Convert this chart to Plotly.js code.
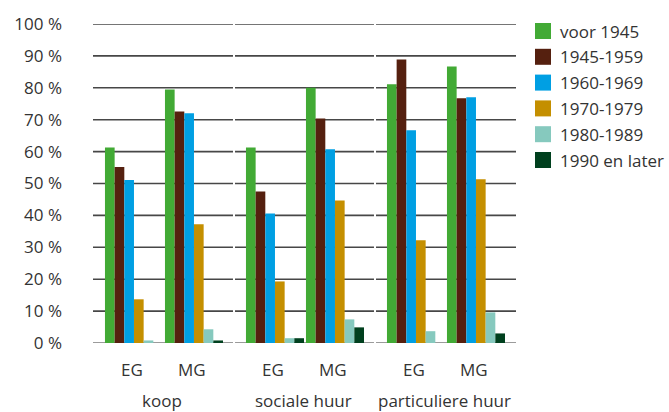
<!DOCTYPE html>
<html><head><meta charset="utf-8">
<script src="https://cdn.plot.ly/plotly-3.0.1.min.js"></script>
<style>html,body{margin:0;padding:0;background:#fff}#chart{width:669px;height:412px}</style>
</head><body><div id="chart"></div>
<script>
// ---- data ----
const groups = ['koop', 'sociale huur', 'particuliere huur'];
const types = ['EG', 'MG'];
const seriesNames = ['voor 1945', '1945-1959', '1960-1969', '1970-1979', '1980-1989', '1990 en later'];
const voor1945   = [61.3, 79.5, 61.3, 80.0, 81.1, 86.7];
const j1945_1959 = [55.2, 72.6, 47.5, 70.4, 88.9, 76.7];
const j1960_1969 = [51.1, 72.0, 40.6, 60.7, 66.7, 77.0];
const j1970_1979 = [13.7, 37.2, 19.3, 44.7, 32.2, 51.3];
const j1980_1989 = [0.8, 4.3, 1.5, 7.4, 3.7, 9.6];
const j1990later = [0, 0.8, 1.5, 4.9, 0, 3.0];
const yTicks = [0, 10, 20, 30, 40, 50, 60, 70, 80, 90, 100];
const yTickText = yTicks.map(v => v + ' %');

// ---- style ----
const seriesValues = [voor1945, j1945_1959, j1960_1969, j1970_1979, j1980_1989, j1990later];
const colors = ['#42aa35', '#55200f', '#009fe3', '#c48f00', '#86c9be', '#00401e'];
const textColor = '#333333';
const fontFamily = '"Open Sans", "DejaVu Sans", sans-serif';
const W = 669, H = 412;
const M = {l: 93, r: 153, t: 24, b: 69};
const plotW = W - M.l - M.r, plotH = H - M.t - M.b;
const P = 2.35;      // group period (in x units)
const off = 0.683;   // first category center within group
const gapHalf = 0.017;

const xPos = [], xLab = [];
groups.forEach((g, gi) => types.forEach((t, ti) => { xPos.push(gi * P + off + ti); xLab.push(t); }));

const traces = [];
seriesValues.forEach((vals, si) => {
  traces.push({
    type: 'bar', x: xPos, y: vals, name: seriesNames[si],
    marker: {color: colors[si], line: {width: 0}},
    showlegend: false,
    hovertemplate: '%{y} %<extra>' + seriesNames[si] + '</extra>'
  });
});

const shapes = [];
groups.forEach((g, gi) => {
  yTicks.forEach(v => {
    shapes.push({
      type: 'line', xref: 'x', yref: 'y', layer: 'below',
      x0: gi * P + (gi > 0 ? gapHalf : 0),
      x1: (gi + 1) * P - (gi < groups.length - 1 ? gapHalf : 0),
      y0: v, y1: v,
      line: {color: v === 0 ? '#7a7a7a' : '#474747', width: 1.6}
    });
  });
});

const annotations = [];
xPos.forEach((x, i) => {
  annotations.push({
    x: x - 0.04, xref: 'x', y: 0, yref: 'paper', yanchor: 'middle', yshift: -26,
    text: xLab[i], showarrow: false, font: {size: 17, color: textColor, family: fontFamily}
  });
});
groups.forEach((g, gi) => {
  annotations.push({
    x: gi * P + off + 0.5 - 0.03, xref: 'x', y: 0, yref: 'paper', yanchor: 'middle', yshift: -57,
    text: g, showarrow: false, borderpad: 0,
    font: {size: 17, color: textColor, family: fontFamily}
  });
});

// custom legend (paper coordinates derived from pixel layout)
const px2x = p => (p - M.l) / plotW;
const py2y = p => 1 - (p - M.t) / plotH;
const legLeft = 535, legSize = 16, legTextX = 559, legTop = 31, legStep = 25.8;
seriesNames.forEach((name, si) => {
  const yc = legTop + si * legStep;
  shapes.push({
    type: 'rect', xref: 'paper', yref: 'paper', layer: 'above',
    x0: px2x(legLeft), x1: px2x(legLeft + legSize),
    y0: py2y(yc - legSize / 2), y1: py2y(yc + legSize / 2),
    fillcolor: colors[si], line: {width: 0}
  });
  annotations.push({
    x: px2x(legTextX), xref: 'paper', xanchor: 'left', y: py2y(yc), yref: 'paper', yanchor: 'middle',
    text: name, showarrow: false, borderpad: 0,
    font: {size: 17, color: textColor, family: fontFamily}
  });
});

const layout = {
  width: W, height: H,
  margin: {l: M.l, r: M.r, t: M.t, b: M.b, pad: 0},
  paper_bgcolor: '#ffffff', plot_bgcolor: '#ffffff',
  font: {family: fontFamily, size: 17, color: textColor},
  barmode: 'group', bargap: 0.033, bargroupgap: 0,
  xaxis: {range: [0, groups.length * P], showgrid: false, zeroline: false, showline: false,
          showticklabels: false, ticks: '', fixedrange: true},
  yaxis: {range: [0, 100], tickvals: yTicks, ticktext: yTickText, showgrid: false, zeroline: false,
          showline: false, ticks: '', ticklabelstandoff: 30, tickfont: {size: 17, color: textColor},
          fixedrange: true},
  shapes: shapes,
  annotations: annotations,
  showlegend: false
};

Plotly.newPlot('chart', traces, layout, {displayModeBar: false, staticPlot: true});
</script>
</body></html>
